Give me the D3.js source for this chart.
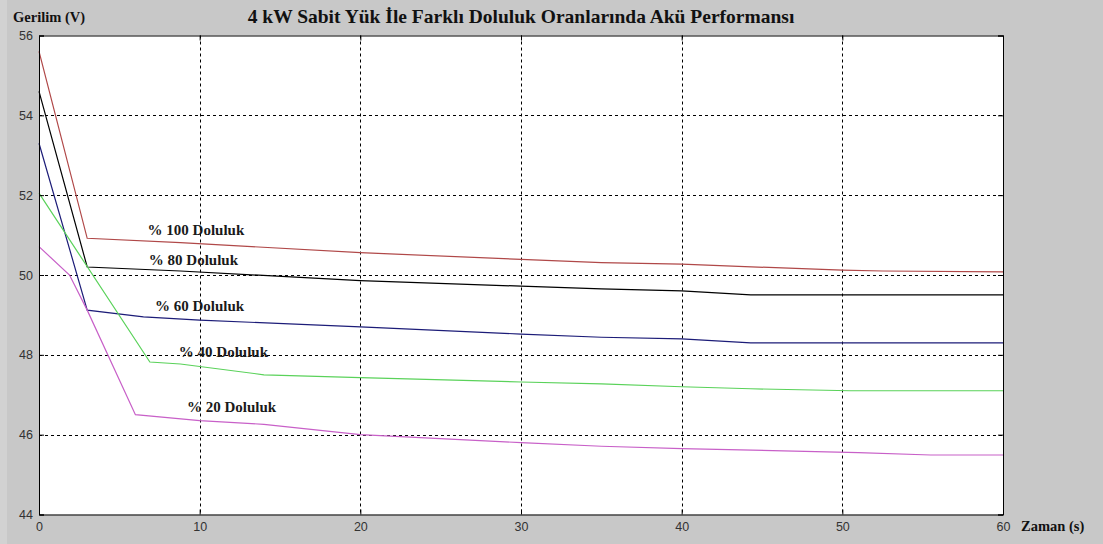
<!DOCTYPE html>
<html>
<head>
<meta charset="utf-8">
<script src="https://cdn.jsdelivr.net/npm/d3@7"></script>
<style>
  body { margin: 0; background: #c8c8c8; }
  svg { display: block; }
</style>
</head>
<body>
<svg width="1103" height="544"></svg>
<script>
// data: time (s) and voltage (V)
const doluluk100 = [[0, 55.6], [3, 50.92], [8.8, 50.81], [20, 50.56], [30, 50.39], [35, 50.31],
    [40, 50.27], [50, 50.12], [52.5, 50.1], [60, 50.08]];
const doluluk80 = [[0, 54.6], [3, 50.2], [8.8, 50.1], [20, 49.86], [30, 49.72], [35, 49.65],
    [40, 49.6], [44.3, 49.5], [60, 49.5]];
const doluluk60 = [[0, 53.3], [3, 49.12], [6.5, 48.95], [10, 48.87], [20, 48.7], [30, 48.52],
    [35, 48.44], [40, 48.4], [44.3, 48.3], [60, 48.3]];
const doluluk40 = [[0, 52.05], [6.9, 47.82], [8.8, 47.77], [14, 47.5], [20, 47.43], [30, 47.32],
    [35, 47.27], [40, 47.2], [44.3, 47.15], [50.5, 47.1], [60, 47.1]];
const doluluk20 = [[0, 50.71], [1.9, 50.0], [3, 49.12], [6, 46.5], [10, 46.35], [14, 46.26],
    [20, 46.0], [30, 45.8], [35, 45.71], [40, 45.65], [47, 45.59], [51, 45.55], [55.5, 45.49], [60, 45.49]];

const seriesNames = ["% 100 Doluluk", "% 80 Doluluk", "% 60 Doluluk", "% 40 Doluluk", "% 20 Doluluk"];
const seriesData = [doluluk100, doluluk80, doluluk60, doluluk40, doluluk20];
const seriesColors = ["#b04848", "#000000", "#1c1c78", "#5ad25a", "#c860c8"];
// label anchor points in data units (x, y baseline)
const labelPos = [[9.77, 51.0], [9.61, 50.25], [9.99, 49.1], [11.48, 47.95], [11.98, 46.57]];

const xTicks = [0, 10, 20, 30, 40, 50, 60];
const yTicks = [44, 46, 48, 50, 52, 54, 56];

const svg = d3.select("svg");
const margin = {left: 39, right: 100, top: 35.5, bottom: 29.5};
const W = 1103, H = 544;

const x = d3.scaleLinear().domain([0, 60]).range([margin.left, W - margin.right]);
const y = d3.scaleLinear().domain([44, 56]).range([H - margin.bottom, margin.top]);

svg.append("rect").attr("x", 0).attr("y", 0).attr("width", 7).attr("height", H).attr("fill", "#d2d2d2");

svg.append("rect")
    .attr("x", x(0)).attr("y", y(56))
    .attr("width", x(60) - x(0)).attr("height", y(44) - y(56))
    .attr("fill", "#fff");

// grid
const grid = svg.append("g").attr("stroke", "#000").attr("stroke-dasharray", "3,3").attr("stroke-width", 1);
grid.selectAll(".gx").data(xTicks.slice(1, -1)).enter().append("line")
    .attr("x1", d => Math.round(x(d)) + 0.5).attr("x2", d => Math.round(x(d)) + 0.5)
    .attr("y1", y(56)).attr("y2", y(44));
grid.selectAll(".gy").data(yTicks.slice(1, -1)).enter().append("line")
    .attr("x1", x(0)).attr("x2", x(60))
    .attr("y1", d => Math.round(y(d)) + 0.5).attr("y2", d => Math.round(y(d)) + 0.5);

// series
const line = d3.line().x(d => x(d[0])).y(d => y(d[1]));
svg.append("g").selectAll("path").data(seriesData).enter().append("path")
    .attr("d", line)
    .attr("fill", "none")
    .attr("stroke", (d, i) => seriesColors[i])
    .attr("stroke-width", 1.2);

// axes
const xAxis = d3.axisBottom(x).tickValues(xTicks).tickSize(-5).tickPadding(8);
const yAxis = d3.axisLeft(y).tickValues(yTicks).tickSize(-5).tickPadding(6);
const xTop = d3.axisTop(x).tickValues(xTicks).tickSize(-5).tickFormat("");
const yRight = d3.axisRight(y).tickValues(yTicks).tickSize(-5).tickFormat("");

svg.append("g").attr("transform", `translate(0,${y(44)})`).call(xAxis);
svg.append("g").attr("transform", `translate(${x(0)},0)`).call(yAxis);
svg.append("g").attr("transform", `translate(0,${y(56)})`).call(xTop);
svg.append("g").attr("transform", `translate(${x(60)},0)`).call(yRight);

svg.selectAll(".domain").attr("stroke", "#000");
svg.selectAll(".tick line").attr("stroke", "#000");
svg.selectAll(".tick text")
    .style("font-family", "'Liberation Sans', Arial, sans-serif")
    .style("font-size", "12.5px")
    .attr("fill", "#333");

// series labels
svg.append("g").selectAll("text").data(seriesNames).enter().append("text")
    .attr("x", (d, i) => x(labelPos[i][0]))
    .attr("y", (d, i) => y(labelPos[i][1]))
    .attr("text-anchor", "middle")
    .style("font-family", "'Liberation Serif', 'Times New Roman', serif")
    .style("font-weight", "bold")
    .style("font-size", "15px")
    .attr("fill", "#1a1a1a")
    .text(d => d);

// titles
svg.append("text")
    .attr("x", 521).attr("y", 23)
    .attr("text-anchor", "middle")
    .style("font-family", "'Liberation Serif', 'Times New Roman', serif")
    .style("font-weight", "bold")
    .style("font-size", "19.5px")
    .attr("fill", "#111")
    .text("4 kW Sabit Yük İle Farklı Doluluk Oranlarında Akü Performansı");

svg.append("text")
    .attr("x", 13).attr("y", 22)
    .style("font-family", "'Liberation Serif', 'Times New Roman', serif")
    .style("font-weight", "bold")
    .style("font-size", "14.5px")
    .attr("fill", "#111")
    .text("Gerilim (V)");

svg.append("text")
    .attr("x", 1021).attr("y", 531)
    .style("font-family", "'Liberation Serif', 'Times New Roman', serif")
    .style("font-weight", "bold")
    .style("font-size", "14.5px")
    .attr("fill", "#111")
    .text("Zaman (s)");
</script>
</body>
</html>
